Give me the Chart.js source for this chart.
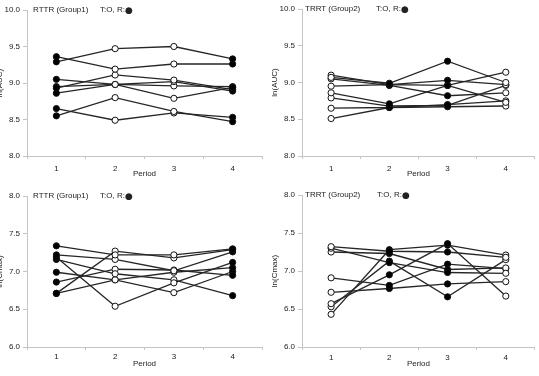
<!DOCTYPE html>
<html>
<head>
<meta charset="utf-8">
<script src="https://cdn.jsdelivr.net/npm/chart.js@4.4.0/dist/chart.umd.min.js"></script>
<style>
  html, body { margin: 0; padding: 0; background: #fff; overflow: hidden; }
  body { width: 539px; height: 376px; position: relative; }
  canvas { position: absolute; }
  .lbl { position: absolute; font-family: "Liberation Sans", Arial, sans-serif; font-size: 8px; color: #222; line-height: 10px; white-space: nowrap; }
  .dot { font-family: "DejaVu Sans", sans-serif; font-size: 9px; line-height: 10px; vertical-align: -1px; }
</style>
</head>
<body>
<canvas id="c1" width="275" height="186" style="left:-5px;top:0px"></canvas>
<canvas id="c2" width="269" height="186" style="left:270px;top:0px"></canvas>
<canvas id="c3" width="275" height="190" style="left:-5px;top:186px"></canvas>
<canvas id="c4" width="269" height="190" style="left:270px;top:186px"></canvas>

<div class="lbl" style="left:33px;top:5px">RTTR (Group1)</div>
<div class="lbl" style="left:100px;top:5px">T:O, R:<span class="dot">●</span></div>
<div class="lbl" style="left:305px;top:4px">TRRT (Group2)</div>
<div class="lbl" style="left:376px;top:4px">T:O, R:<span class="dot">●</span></div>
<div class="lbl" style="left:33px;top:191px">RTTR (Group1)</div>
<div class="lbl" style="left:100px;top:191px">T:O, R:<span class="dot">●</span></div>
<div class="lbl" style="left:305px;top:190px">TRRT (Group2)</div>
<div class="lbl" style="left:377px;top:190px">T:O, R:<span class="dot">●</span></div>

<script>
// ---- data ----
const periods = ['1', '2', '3', '4'];

// RTTR: R in periods 1 and 4 (filled), T in periods 2 and 3 (open)
const rttrFilled = [true, false, false, true];
// TRRT: T in periods 1 and 4 (open), R in periods 2 and 3 (filled)
const trrtFilled = [false, true, true, false];

// ln(AUC), group 1 (RTTR), one row per subject
const aucG1 = [
  [9.29, 9.47, 9.50, 9.33],
  [9.36, 9.19, 9.26, 9.26],
  [9.05, 8.98, 8.79, 8.94],
  [8.93, 9.11, 9.04, 8.91],
  [8.95, 8.98, 9.02, 8.89],
  [8.86, 8.98, 8.96, 8.95],
  [8.55, 8.80, 8.61, 8.47],
  [8.65, 8.49, 8.59, 8.53]
];

// ln(AUC), group 2 (TRRT)
const aucG2 = [
  [9.07, 8.99, 9.29, 9.00],
  [9.10, 8.97, 9.03, 8.97],
  [9.05, 8.96, 8.82, 8.86],
  [8.95, 8.97, 8.96, 8.73],
  [8.86, 8.71, 8.96, 9.14],
  [8.79, 8.68, 8.69, 8.96],
  [8.65, 8.66, 8.70, 8.75],
  [8.51, 8.66, 8.67, 8.68]
];

// ln(Cmax), group 1 (RTTR)
const cmaxG1 = [
  [7.34, 7.22, 7.22, 7.30],
  [6.71, 7.27, 7.18, 7.29],
  [7.22, 7.16, 7.01, 7.26],
  [7.19, 6.54, 6.85, 7.12],
  [7.16, 6.97, 6.89, 6.68],
  [6.99, 6.89, 6.99, 7.05],
  [6.86, 7.03, 7.02, 6.95],
  [6.71, 6.89, 6.72, 7.00]
];

// ln(Cmax), group 2 (TRRT)
const cmaxG2 = [
  [7.32, 7.26, 7.25, 7.18],
  [7.30, 7.11, 6.98, 6.97],
  [7.25, 7.23, 7.02, 7.04],
  [6.91, 6.81, 7.09, 7.03],
  [6.72, 6.77, 6.83, 6.86],
  [6.57, 6.95, 7.36, 6.67],
  [6.53, 7.13, 6.66, 7.15],
  [6.43, 7.28, 7.34, 7.21]
];

const aucTicks = [8.0, 8.5, 9.0, 9.5, 10.0];
const cmaxTicks = [6.0, 6.5, 7.0, 7.5, 8.0];

// ---- drawing ----
const FONT = { family: '"Liberation Sans", Arial, sans-serif', size: 8 };
const AXIS = '#c4c4c4';

function makeChart(id, rows, filled, ticks, yTitle, g) {
  const ctx = document.getElementById(id);
  const datasets = rows.map(r => ({
    data: r,
    borderColor: '#262626',
    borderWidth: 1.3,
    pointRadius: 3.1,
    pointHoverRadius: 3.1,
    pointBorderWidth: 1,
    pointBorderColor: '#111',
    pointBackgroundColor: filled.map(f => f ? '#000' : '#fff'),
    tension: 0,
    fill: false
  }));
  return new Chart(ctx, {
    type: 'line',
    data: { labels: periods, datasets },
    options: {
      responsive: false,
      animation: false,
      devicePixelRatio: 1,
      layout: { padding: { top: g.top, right: g.right, left: 0, bottom: 0 } },
      plugins: { legend: { display: false }, tooltip: { enabled: false } },
      scales: {
        x: {
          type: 'category',
          offset: true,
          grid: { drawOnChartArea: false, drawTicks: true, tickLength: 3, color: AXIS, offset: true },
          border: { display: true, color: AXIS, width: 1 },
          ticks: { font: FONT, color: '#222', padding: g.xPad, maxRotation: 0 },
          title: { display: true, text: 'Period', font: FONT, color: '#222', padding: { top: 0, bottom: 7 } },
          afterFit: s => { s.height = g.xH; }
        },
        y: {
          min: ticks[0],
          max: ticks[ticks.length - 1],
          afterBuildTicks: s => { s.ticks = ticks.map(v => ({ value: v })); },
          grid: { drawOnChartArea: false, drawTicks: true, tickLength: 4, color: AXIS },
          border: { display: true, color: AXIS, width: 1 },
          ticks: { font: FONT, color: '#222', padding: 3, callback: v => Number(v).toFixed(1) },
          title: { display: true, text: yTitle, font: FONT, color: '#222', padding: 0 },
          afterFit: s => { s.width = 32; }
        }
      }
    }
  });
}

makeChart('c1', aucG1, rttrFilled, aucTicks, 'ln(AUC)', { top: 10, right: 8, xH: 30, xPad: 5 });
makeChart('c2', aucG2, trrtFilled, aucTicks, 'ln(AUC)', { top: 9, right: 2, xH: 30, xPad: 5 });
makeChart('c3', cmaxG1, rttrFilled, cmaxTicks, 'ln(Cmax)', { top: 10, right: 8, xH: 29, xPad: 2 });
makeChart('c4', cmaxG2, trrtFilled, cmaxTicks, 'ln(Cmax)', { top: 9, right: 2, xH: 29, xPad: 3 });
</script>
</body>
</html>
